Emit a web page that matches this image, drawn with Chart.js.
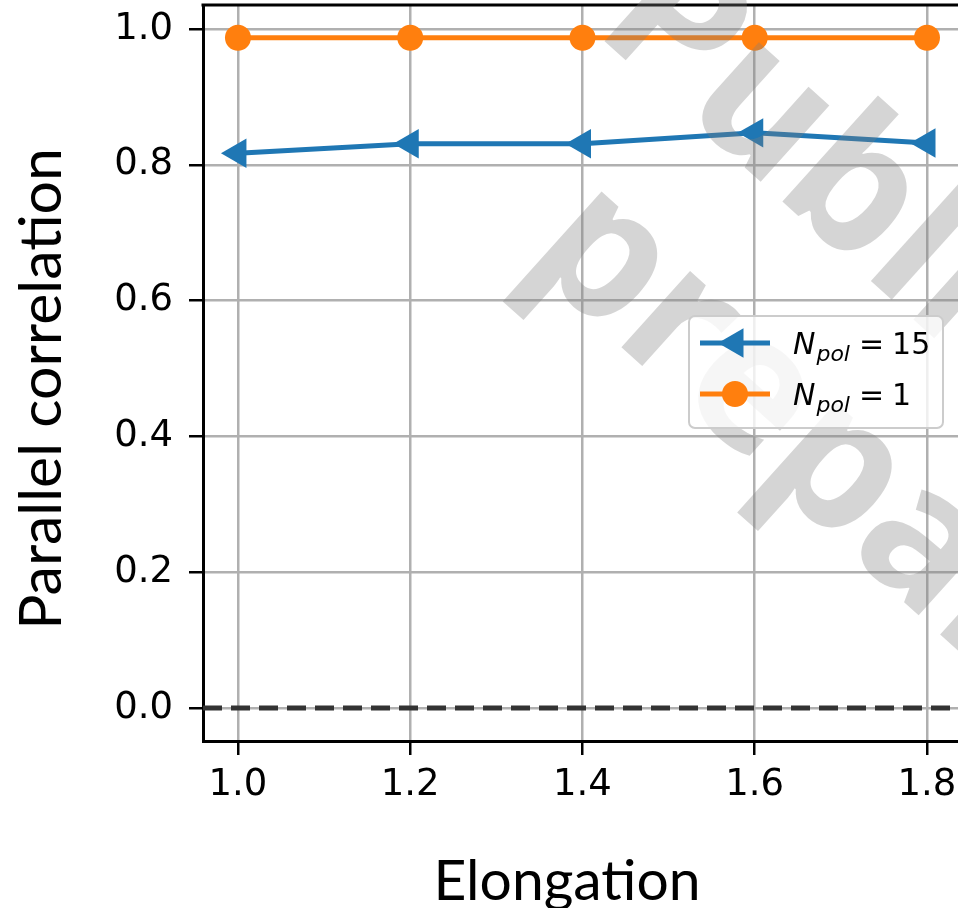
<!DOCTYPE html>
<html><head><meta charset="utf-8">
<script src="https://cdn.jsdelivr.net/npm/chart.js@4.4.1/dist/chart.umd.min.js"></script>
<style>html,body{margin:0;padding:0;background:#fff;overflow:hidden}canvas{display:block}</style>
</head><body>
<canvas id="c" width="958" height="908"></canvas>
<script>
// ---- data ----
const elongation = [1.0, 1.2, 1.4, 1.6, 1.8];
const npol15 = [0.817, 0.831, 0.831, 0.847, 0.832];
const npol1 = [0.987, 0.987, 0.987, 0.987, 0.987];
const xTicks = [1.0, 1.2, 1.4, 1.6, 1.8];
const yTicks = [0.0, 0.2, 0.4, 0.6, 0.8, 1.0];
const seriesNames = ['N_pol = 15', 'N_pol = 1'];
const xTitle = 'Elongation';
const yTitle = 'Parallel correlation';
const refLineValue = 0;
const watermarkLines = ['Publication in', 'preparation'];

const BLUE = '#1f77b4', ORANGE = '#ff7f0e';

function pts(ys){ return elongation.map((x,i)=>({x:x, y:ys[i]})); }

const datasets = [
  {label: seriesNames[0], data: pts(npol15), borderColor: BLUE, backgroundColor: BLUE,
   borderWidth: 5, pointStyle: 'triangle', rotation: -90, pointRadius: 17, pointHoverRadius: 17,
   pointBackgroundColor: BLUE, pointBorderColor: BLUE, pointBorderWidth: 0, tension: 0, clip: false},
  {label: seriesNames[1], data: pts(npol1), borderColor: ORANGE, backgroundColor: ORANGE,
   borderWidth: 5, pointStyle: 'circle', pointRadius: 13, pointHoverRadius: 13,
   pointBackgroundColor: ORANGE, pointBorderColor: ORANGE, pointBorderWidth: 0, tension: 0, clip: false}
];

const refLinePlugin = {
  id: 'refLine',
  beforeDatasetsDraw(chart){
    const {ctx, chartArea: a, scales: {y}} = chart;
    const py = y.getPixelForValue(refLineValue);
    ctx.save();
    ctx.strokeStyle = '#333333'; ctx.lineWidth = 5; ctx.setLineDash([19, 9]);
    ctx.beginPath(); ctx.moveTo(a.left, py); ctx.lineTo(a.right, py); ctx.stroke();
    ctx.restore();
    ctx.save(); ctx.strokeStyle = '#000'; ctx.lineWidth = 3;
    ctx.beginPath(); ctx.moveTo(a.left - 1.5, a.top); ctx.lineTo(a.right, a.top); ctx.stroke();
    ctx.restore();
  }
};

function drawMathLabel(ctx, label, x, y){
  const m = label.match(/^(\w)_(\w+)\s*=\s*(.+)$/);
  ctx.fillStyle = '#000'; ctx.textBaseline = 'alphabetic'; ctx.textAlign = 'left';
  ctx.font = 'italic 30px "DejaVu Sans"';
  ctx.fillText(m[1], x, y); x += ctx.measureText(m[1]).width + 1;
  ctx.font = 'italic 22px "DejaVu Sans"';
  ctx.fillText(m[2], x, y + 7); x += ctx.measureText(m[2]).width + 9;
  ctx.font = '30px "DejaVu Sans"';
  ctx.fillText('=', x, y); x += ctx.measureText('=').width + 8;
  ctx.fillText(m[3], x, y);
}

const watermarkPlugin = {
  id: 'watermark',
  afterDatasetsDraw(chart){
    const {ctx} = chart;
    const origins = [[592, 30], [522, 258]];
    ctx.save();
    ctx.fillStyle = 'rgba(128,128,128,0.33)';
    ctx.font = 'bold 188px "Open Sans"';
    ctx.textBaseline = 'alphabetic'; ctx.textAlign = 'left';
    watermarkLines.forEach((t, i) => {
      ctx.save();
      ctx.translate(origins[i][0], origins[i][1]);
      ctx.rotate(42 * Math.PI / 180);
      ctx.fillText(t, 0, 0);
      ctx.restore();
    });
    ctx.restore();
  }
};

const legendPlugin = {
  id: 'customLegend',
  afterDatasetsDraw(chart){
    const {ctx} = chart;
    const bx = 689, by = 316, bw = 254, bh = 112, r = 6;
    ctx.save();
    ctx.beginPath();
    ctx.roundRect(bx, by, bw, bh, r);
    ctx.fillStyle = 'rgba(255,255,255,0.8)'; ctx.fill();
    ctx.strokeStyle = '#cccccc'; ctx.lineWidth = 2; ctx.stroke();
    const rows = [343, 394];
    chart.data.datasets.forEach((ds, i) => {
      const cy = rows[i];
      ctx.strokeStyle = ds.borderColor; ctx.lineWidth = 5; ctx.setLineDash([]);
      ctx.beginPath(); ctx.moveTo(700, cy); ctx.lineTo(770, cy); ctx.stroke();
      ctx.fillStyle = ds.borderColor;
      ctx.beginPath();
      const rad = ds.pointRadius;
      if (ds.pointStyle === 'circle') { ctx.arc(735, cy, rad, 0, Math.PI*2); ctx.fill(); }
      else {
        let a = (ds.rotation||0) * Math.PI/180;
        ctx.moveTo(735 + Math.sin(a)*rad, cy - Math.cos(a)*rad);
        a += 2*Math.PI/3; ctx.lineTo(735 + Math.sin(a)*rad, cy - Math.cos(a)*rad);
        a += 2*Math.PI/3; ctx.lineTo(735 + Math.sin(a)*rad, cy - Math.cos(a)*rad);
        ctx.closePath(); ctx.fill();
      }
      drawMathLabel(ctx, ds.label, 793, cy + 11);
    });
    ctx.restore();
  }
};

const titlesPlugin = {
  id: 'axisTitles',
  afterDraw(chart){
    const {ctx} = chart;
    ctx.save();
    ctx.fillStyle = '#000'; ctx.textAlign = 'center'; ctx.textBaseline = 'middle';
    ctx.font = '57px Lato';
    ctx.fillText(xTitle, 567, 882);
    ctx.font = '59px Lato';
    ctx.translate(42, 389); ctx.rotate(-Math.PI/2);
    ctx.fillText(yTitle, 0, 0);
    ctx.restore();
  }
};

const gridCommon = {color: '#b0b0b0', lineWidth: 2.5, tickColor: '#000', tickLength: 14, tickWidth: 2.5};
function zeroPad(s){ s.paddingTop = 0; s.paddingBottom = 0; s.paddingLeft = 0; s.paddingRight = 0; }

new Chart(document.getElementById('c'), {
  type: 'line',
  data: {datasets: datasets},
  options: {
    responsive: false, animation: false, maintainAspectRatio: false,
    layout: {padding: {top: 5, left: 0, right: 0, bottom: 0}, autoPadding: false},
    plugins: {legend: {display: false}, tooltip: {enabled: false}},
    scales: {
      x: {type: 'linear', min: 0.9594, max: 1.836,
          afterBuildTicks: s => { s.ticks = xTicks.map(v => ({value: v})); },
          afterFit: s => { s.height = 167; zeroPad(s); },
          ticks: {callback: v => Number(v).toFixed(1), font: {family: 'DejaVu Sans', size: 37}, color: '#000', padding: 8, maxRotation: 0, autoSkip: false},
          grid: gridCommon, border: {color: '#000', width: 3}},
      y: {type: 'linear', min: -0.0486, max: 1.0353,
          afterBuildTicks: s => { s.ticks = yTicks.map(v => ({value: v})); },
          afterFit: s => { s.width = 203; zeroPad(s); },
          ticks: {callback: v => Number(v).toFixed(1), font: {family: 'DejaVu Sans', size: 37}, color: '#000', padding: 16, autoSkip: false},
          grid: gridCommon, border: {color: '#000', width: 3}}
    }
  },
  plugins: [refLinePlugin, watermarkPlugin, legendPlugin, titlesPlugin]
});
</script>
</body></html>
